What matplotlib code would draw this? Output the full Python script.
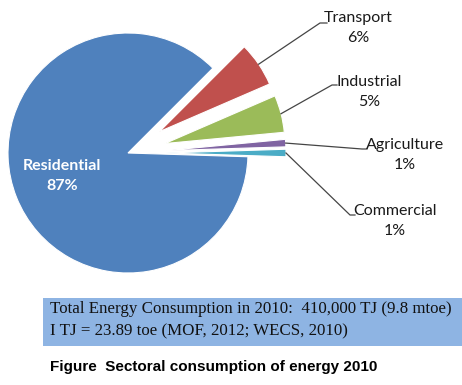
import numpy as np
import matplotlib.pyplot as plt
from matplotlib.patches import Rectangle

# sector shares (percent), clockwise from the Transport slice
sectors = ['Transport', 'Industrial', 'Agriculture', 'Commercial', 'Residential']
shares = [6, 5, 1, 1, 87]
colors = ['#C0504D', '#9BBB59', '#8064A2', '#4BACC6', '#4F81BD']

note_lines = ['Total Energy Consumption in 2010:  410,000 TJ (9.8 mtoe)',
              'I TJ = 23.89 toe (MOF, 2012; WECS, 2010)']
caption = 'Figure  Sectoral consumption of energy 2010'

W, H = 462, 385
fig = plt.figure(figsize=(W / 100, H / 100), dpi=100)

# pie axes with y pointing up
pa = fig.add_axes([0, 0, 1, 1])
pa.axis('off')
R = 120
cx, cy = 128, H - 153
wedges, _ = pa.pie(shares, colors=colors, startangle=45, counterclock=False,
                   explode=[38, 38, 38, 38, 0], center=(cx, cy), radius=R,
                   wedgeprops=dict(edgecolor='white', linewidth=0.8))
pa.set_xlim(0, W)
pa.set_ylim(0, H)
pa.set_aspect('auto')

# overlay for labels and notes, pixel coords with y down
ax = fig.add_axes([0, 0, 1, 1])
ax.set_xlim(0, W)
ax.set_ylim(H, 0)
ax.axis('off')
ax.set_zorder(2)

lab_font = 'Lato'
label_pos = {'Transport': (358, 28), 'Industrial': (369, 92),
             'Agriculture': (405, 155), 'Commercial': (395, 221)}
elbows = {'Transport': [(320, 23), (327, 23)], 'Industrial': [(332, 85), (337, 85)],
          'Agriculture': [(362, 149), (367, 149)], 'Commercial': [(350, 215), (355, 215)]}

for w, name, val in zip(wedges, sectors, shares):
    if name == 'Residential':
        continue
    th = np.deg2rad((w.theta1 + w.theta2) / 2)
    x0 = w.center[0] + w.r * np.cos(th)
    y0 = H - (w.center[1] + w.r * np.sin(th))
    pts = [(x0, y0)] + elbows[name]
    ax.plot([p[0] for p in pts], [p[1] for p in pts], color='#454545', lw=0.9)
    lx, ly = label_pos[name]
    ax.text(lx, ly, f'{name}\n{val}%', ha='center', va='center', fontsize=11.5,
            family=lab_font, color='#1a1a1a', linespacing=1.6)

ax.text(62, 176, f'Residential\n{shares[-1]}%', ha='center', va='center', fontsize=11.5,
        family=lab_font, fontweight='bold', color='white', linespacing=1.6)

# note box
ax.add_patch(Rectangle((43, 298), W - 43, 48, facecolor='#8EB4E3', edgecolor='none'))
ax.text(50, 309, note_lines[0], ha='left', va='center', fontsize=12.2,
        family='Liberation Serif', color='#111111')
ax.text(50, 331, note_lines[1], ha='left', va='center', fontsize=12.2,
        family='Liberation Serif', color='#111111')

ax.text(50, 367, caption, ha='left', va='center', fontsize=11,
        family='Liberation Sans', fontweight='bold', color='black')

fig.savefig('out.png', dpi=100)
